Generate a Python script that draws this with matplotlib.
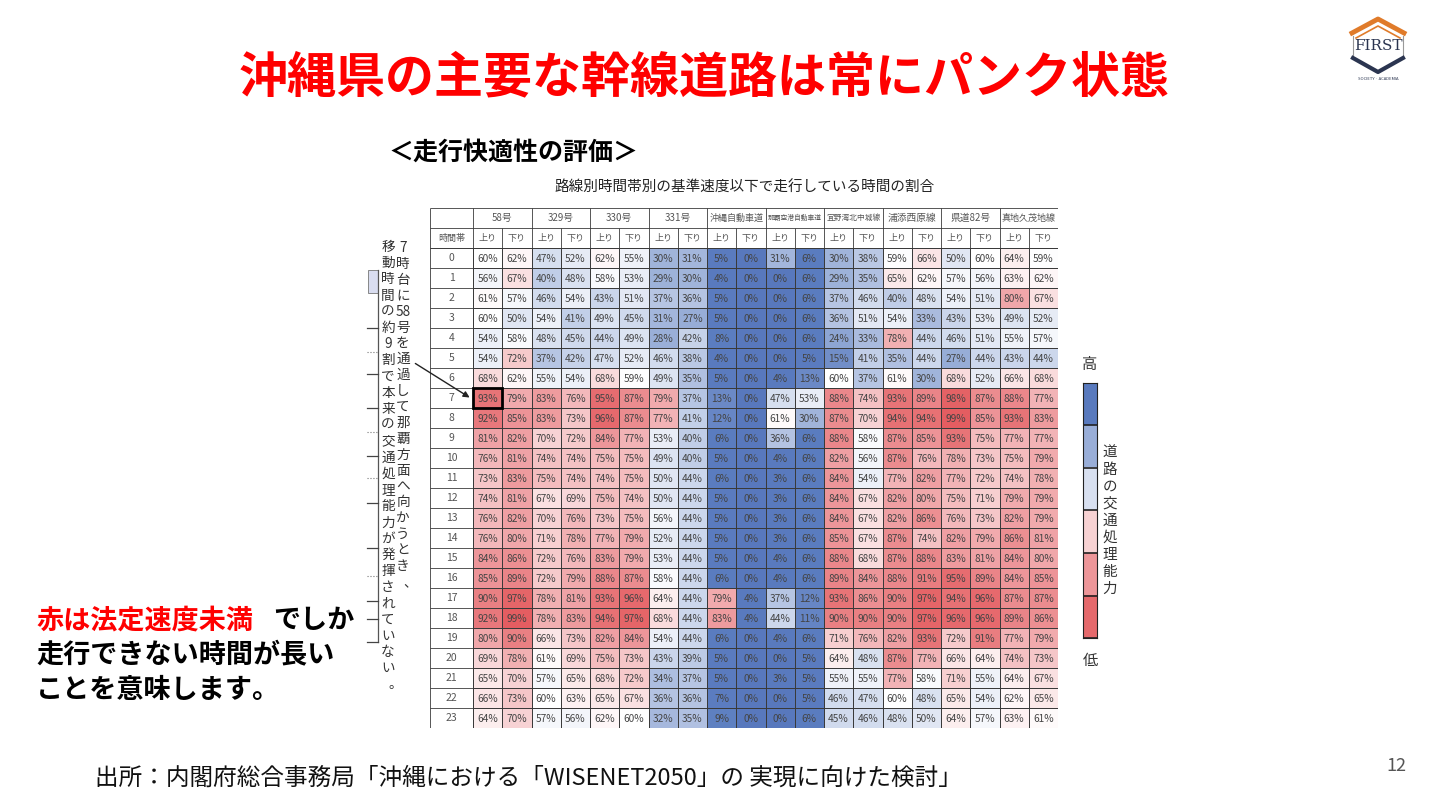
import numpy as np
import matplotlib.pyplot as plt
from matplotlib.colors import LinearSegmentedColormap
from matplotlib.patches import Rectangle, FancyArrowPatch

plt.rcParams['font.family'] = ['Noto Sans CJK JP', 'DejaVu Sans']

# route names and directions (header of the table)
routes = ["58号", "329号", "330号", "331号", "沖縄自動車道", "那覇空港自動車道",
          "宜野湾北中城線", "浦添西原線", "県道82号", "真地久茂地線"]
directions = ["上り", "下り"]
hours = list(range(24))

# share of time driven below the reference speed (%), rows = hour, cols = route x direction
ratio = np.array([
    [60, 62, 47, 52, 62, 55, 30, 31, 5, 0, 31, 6, 30, 38, 59, 66, 50, 60, 64, 59],
    [56, 67, 40, 48, 58, 53, 29, 30, 4, 0, 0, 6, 29, 35, 65, 62, 57, 56, 63, 62],
    [61, 57, 46, 54, 43, 51, 37, 36, 5, 0, 0, 6, 37, 46, 40, 48, 54, 51, 80, 67],
    [60, 50, 54, 41, 49, 45, 31, 27, 5, 0, 0, 6, 36, 51, 54, 33, 43, 53, 49, 52],
    [54, 58, 48, 45, 44, 49, 28, 42, 8, 0, 0, 6, 24, 33, 78, 44, 46, 51, 55, 57],
    [54, 72, 37, 42, 47, 52, 46, 38, 4, 0, 0, 5, 15, 41, 35, 44, 27, 44, 43, 44],
    [68, 62, 55, 54, 68, 59, 49, 35, 5, 0, 4, 13, 60, 37, 61, 30, 68, 52, 66, 68],
    [93, 79, 83, 76, 95, 87, 79, 37, 13, 0, 47, 53, 88, 74, 93, 89, 98, 87, 88, 77],
    [92, 85, 83, 73, 96, 87, 77, 41, 12, 0, 61, 30, 87, 70, 94, 94, 99, 85, 93, 83],
    [81, 82, 70, 72, 84, 77, 53, 40, 6, 0, 36, 6, 88, 58, 87, 85, 93, 75, 77, 77],
    [76, 81, 74, 74, 75, 75, 49, 40, 5, 0, 4, 6, 82, 56, 87, 76, 78, 73, 75, 79],
    [73, 83, 75, 74, 74, 75, 50, 44, 6, 0, 3, 6, 84, 54, 77, 82, 77, 72, 74, 78],
    [74, 81, 67, 69, 75, 74, 50, 44, 5, 0, 3, 6, 84, 67, 82, 80, 75, 71, 79, 79],
    [76, 82, 70, 76, 73, 75, 56, 44, 5, 0, 3, 6, 84, 67, 82, 86, 76, 73, 82, 79],
    [76, 80, 71, 78, 77, 79, 52, 44, 5, 0, 3, 6, 85, 67, 87, 74, 82, 79, 86, 81],
    [84, 86, 72, 76, 83, 79, 53, 44, 5, 0, 4, 6, 88, 68, 87, 88, 83, 81, 84, 80],
    [85, 89, 72, 79, 88, 87, 58, 44, 6, 0, 4, 6, 89, 84, 88, 91, 95, 89, 84, 85],
    [90, 97, 78, 81, 93, 96, 64, 44, 79, 4, 37, 12, 93, 86, 90, 97, 94, 96, 87, 87],
    [92, 99, 78, 83, 94, 97, 68, 44, 83, 4, 44, 11, 90, 90, 90, 97, 96, 96, 89, 86],
    [80, 90, 66, 73, 82, 84, 54, 44, 6, 0, 4, 6, 71, 76, 82, 93, 72, 91, 77, 79],
    [69, 78, 61, 69, 75, 73, 43, 39, 5, 0, 0, 5, 64, 48, 87, 77, 66, 64, 74, 73],
    [65, 70, 57, 65, 68, 72, 34, 37, 5, 0, 3, 5, 55, 55, 77, 58, 71, 55, 64, 67],
    [66, 73, 60, 63, 65, 67, 36, 36, 7, 0, 0, 5, 46, 47, 60, 48, 65, 54, 62, 65],
    [64, 70, 57, 56, 62, 60, 32, 35, 9, 0, 0, 6, 45, 46, 48, 50, 64, 57, 63, 61],
])

# legend levels, top (high capacity) to bottom (low)
legend_levels = [5, 28, 48, 70, 84, 96]

title = "沖縄県の主要な幹線道路は常にパンク状態"
subtitle = "＜走行快適性の評価＞"
chart_title = "路線別時間帯別の基準速度以下で走行している時間の割合"
note1 = "7時台に58号を通過して那覇方面へ向かうとき、"
note2 = "移動時間の約9割で本来の交通処理能力が発揮されていない。"
source = "出所：内閣府総合事務局「沖縄における「WISENET2050」の 実現に向けた検討」"

cmap = LinearSegmentedColormap.from_list(
    "capacity", [(0.0, "#5878bd"), (0.08, "#5b7dc0"), (0.6, "#ffffff"),
                 (0.8, "#f0a7aa"), (1.0, "#e35a5e")])

W, H = 1440, 810
fig = plt.figure(figsize=(14.4, 8.1), dpi=100)
fig.patch.set_facecolor("white")


def fx(x):
    return x / W


def fy(y):
    return 1 - y / H


fig.text(fx(704), fy(78), title, color="#ff0000", fontsize=35.3, fontweight="bold",
         ha="center", va="center")
fig.text(fx(388), fy(153), subtitle, fontsize=18, fontweight="bold", ha="left", va="center")
fig.text(fx(745), fy(188), chart_title, fontsize=10.5, ha="center", va="center", color="#222222")

# ---- table ----
ax = fig.add_axes([fx(430), fy(728), (1058 - 430) / W, 520 / H])
tw = 43 / 29.25
nc = ratio.shape[1]
xe = tw + np.arange(nc + 1)
ye = np.arange(len(hours) + 1)
ax.pcolormesh(xe, ye, ratio, cmap=cmap, vmin=0, vmax=100,
              edgecolors="#3a3a3a", linewidth=0.6)
ax.set_xlim(0, xe[-1])
ax.set_ylim(len(hours), -2)
ax.axis("off")

line_kw = dict(color="#3a3a3a", linewidth=0.6)
ax.hlines([-2, -1, 0], 0, xe[-1], **line_kw)
ax.hlines(ye, 0, tw, **line_kw)
ax.vlines([0, tw], -2, len(hours), **line_kw)
for k in range(1, nc + 1):
    top = -2 if k % 2 == 0 else -1
    ax.vlines(xe[k], top, len(hours), **line_kw)

for i, h in enumerate(hours):
    ax.text(tw / 2, i + 0.5, str(h), ha="center", va="center", fontsize=7.5, color="#555555")
    for j in range(nc):
        ax.text(xe[j] + 0.5, i + 0.55, f"{ratio[i, j]}%", ha="center", va="center",
                fontsize=7.3, color="#444444")

ax.text(tw / 2, -0.5, "時間帯", ha="center", va="center", fontsize=6.5, color="#555555")
for j in range(nc):
    ax.text(xe[j] + 0.5, -0.5, directions[j % 2], ha="center", va="center",
            fontsize=6.5, color="#555555")
for k, r in enumerate(routes):
    fs = min(7.0, 39.0 / len(r))
    ax.text(xe[2 * k] + 1, -1.5, r, ha="center", va="center", fontsize=fs, color="#555555")

ax.add_patch(Rectangle((xe[0], 7), 1, 1, fill=False, linewidth=2, edgecolor="black", zorder=5))

# ---- legend bar ----
cax = fig.add_axes([fx(1083), fy(638), 14 / W, 255 / H])
cax.imshow(np.array(legend_levels).reshape(-1, 1), cmap=cmap, vmin=0, vmax=100, aspect="auto")
cax.hlines(np.arange(-0.5, len(legend_levels)), -0.5, 0.5, color="#222222", linewidth=1.2)
cax.set_xticks([])
cax.set_yticks([])
for s in cax.spines.values():
    s.set_color("#222222")
fig.text(fx(1090), fy(365), "高", fontsize=11, ha="center", va="center", color="#333333")
fig.text(fx(1090), fy(661), "低", fontsize=11, ha="center", va="center", color="#333333")
for n, ch in enumerate("道路の交通処理能力"):
    fig.text(fx(1110), fy(453 + n * 17), ch, fontsize=10.5, ha="center", va="center", color="#333333")


# ---- vertical note on the left ----
def vertical(text, x, y0, step):
    units = []
    buf = ""
    for ch in text:
        if ch.isdigit():
            buf += ch
        else:
            if buf:
                units.append(buf)
                buf = ""
            units.append(ch)
    for n, u in enumerate(units):
        dx = 7 if u in "、。" else 0
        fig.text(fx(x + dx), fy(y0 + n * step), u, fontsize=9.8, ha="center",
                 va="center", color="#333333")


vertical(note1, 403, 248, 15.9)
vertical(note2, 388, 247, 16.2)

# leftover bracket graphic
fig.add_artist(Rectangle((fx(368), fy(293)), 10 / W, 23 / H, facecolor="#d9ddf0",
                         edgecolor="#777777", linewidth=0.6))
fig.add_artist(plt.Line2D([fx(378), fx(378)], [fy(270), fy(642)], color="#555555", linewidth=0.9))
for ty in [328, 374, 408, 456, 503, 548, 601, 619, 642]:
    fig.add_artist(plt.Line2D([fx(367), fx(378)], [fy(ty), fy(ty)], color="#444444", linewidth=0.9))
for ty in [352, 432, 478, 576]:
    fig.add_artist(plt.Line2D([fx(367), fx(378)], [fy(ty), fy(ty)], color="#777777",
                              linewidth=0.8, linestyle=":"))

# arrow to the 7 o'clock cell
fig.add_artist(FancyArrowPatch(
    (fx(413), fy(362)), (fx(472), fy(399)), transform=fig.transFigure,
    arrowstyle="-|>", mutation_scale=9, color="#222222", linewidth=1))

# ---- bottom-left message ----
t1 = fig.text(fx(36), fy(620), "赤は法定速度未満", color="#ff0000", fontsize=19.5,
              fontweight="bold", ha="left", va="center")
renderer = fig.canvas.get_renderer()
bb = t1.get_window_extent(renderer)
fig.text(bb.x1 / W + 20 / W, fy(620), "でしか", color="black", fontsize=19.5,
         fontweight="bold", ha="left", va="center")
fig.text(fx(36), fy(655), "走行できない時間が長い", fontsize=19.5, fontweight="bold",
         ha="left", va="center")
fig.text(fx(36), fy(690), "ことを意味します。", fontsize=19.5, fontweight="bold",
         ha="left", va="center")

fig.text(fx(95), fy(778), source, fontsize=17, ha="left", va="center", color="#111111")
fig.text(fx(1396), fy(766), "12", fontsize=13, ha="center", va="center", color="#555555")

# ---- logo ----
fig.add_artist(plt.Line2D([fx(1352), fx(1378), fx(1404)], [fy(33), fy(19), fy(33)],
                          color="#e07b2a", linewidth=3.5))
fig.add_artist(plt.Line2D([fx(1356), fx(1378), fx(1400)], [fy(38), fy(26), fy(38)],
                          color="#e07b2a", linewidth=1.2))
fig.add_artist(plt.Line2D([fx(1353), fx(1353)], [fy(36), fy(58)], color="#999999", linewidth=0.8))
fig.add_artist(plt.Line2D([fx(1403), fx(1403)], [fy(36), fy(58)], color="#999999", linewidth=0.8))
fig.text(fx(1378), fy(46), "FIRST", fontsize=11, family="DejaVu Serif", color="#2b3550",
         ha="center", va="center")
fig.add_artist(plt.Line2D([fx(1353), fx(1378), fx(1403)], [fy(58), fy(72), fy(58)],
                          color="#2b3550", linewidth=3))
fig.text(fx(1378), fy(79), "SOCIETY · ACADEMIA", fontsize=3, color="#2b3550",
         ha="center", va="center")

fig.savefig("out.png", dpi=100)
